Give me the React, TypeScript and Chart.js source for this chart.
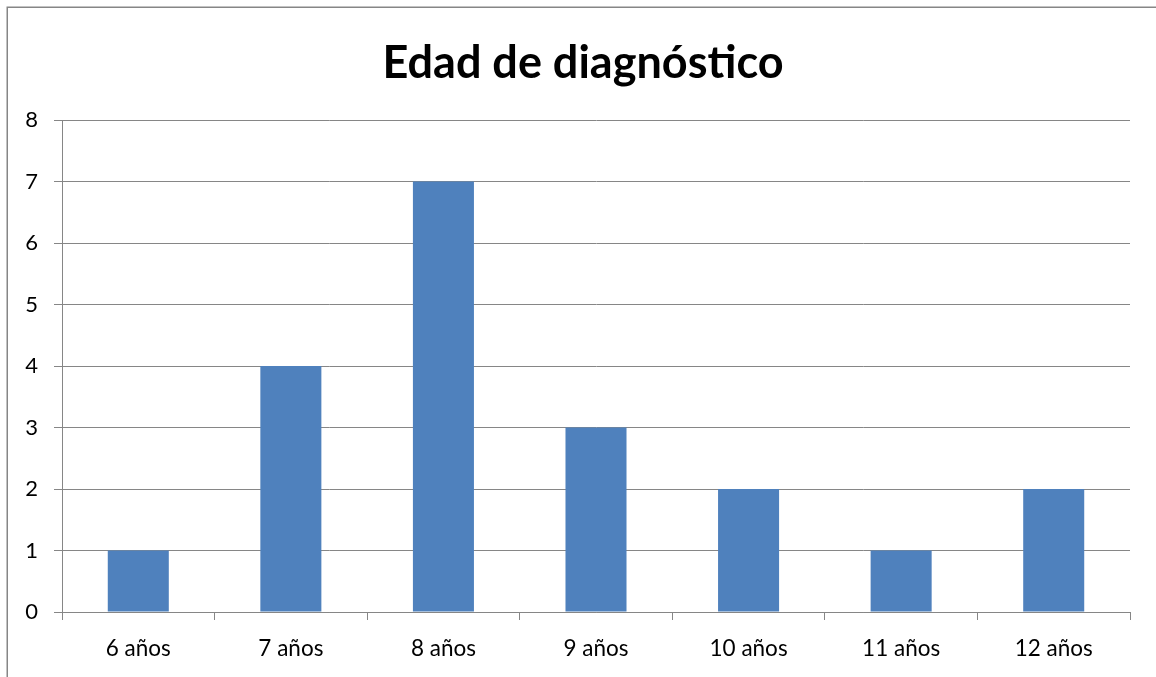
import React, { useEffect, useRef } from "react";
import { Chart, registerables } from "chart.js";

Chart.register(...registerables);

const categories = ["6 años", "7 años", "8 años", "9 años", "10 años", "11 años", "12 años"];
const values = [1, 4, 7, 3, 2, 1, 2];
const titleText = "Edad de diagnóstico";

const FONT = "Lato, 'Open Sans', sans-serif";
const GRID = "#868686";

const borderPlugin = {
  id: "outerBorder",
  afterDraw(chart: any) {
    const ctx = chart.ctx;
    ctx.save();
    ctx.strokeStyle = GRID;
    ctx.lineWidth = 1.5;
    ctx.strokeRect(7.25, 7.25, 2000, 2000);
    ctx.restore();
  },
};

export default function App() {
  const ref = useRef<HTMLCanvasElement | null>(null);
  useEffect(() => {
    if (!ref.current) return;
    const chart = new Chart(ref.current, {
      type: "bar",
      data: {
        labels: categories,
        datasets: [
          {
            data: values,
            backgroundColor: "#4F81BD",
            barPercentage: 0.4,
            categoryPercentage: 1,
          },
        ],
      },
      options: {
        animation: false,
        responsive: false,
        layout: { padding: { left: 10, right: 0, top: 0, bottom: 0 } },
        plugins: {
          legend: { display: false },
          tooltip: { enabled: false },
          title: {
            display: true,
            text: titleText,
            color: "#000",
            font: { family: FONT, size: 45, weight: "bold", lineHeight: 1.2 },
            padding: { top: 36, bottom: 30 },
          },
        },
        scales: {
          x: {
            grid: {
              display: true,
              drawOnChartArea: false,
              drawTicks: true,
              tickLength: 8,
              color: GRID,
              offset: true,
            },
            border: { display: true, color: GRID, width: 1 },
            ticks: {
              color: "#000",
              font: { family: FONT, size: 22.5 },
              padding: 15,
            },
          },
          y: {
            min: 0,
            max: 8,
            afterFit(scale: any) {
              scale.width = 52;
            },
            grid: { color: GRID, tickLength: 8, lineWidth: 1 },
            border: { display: true, color: GRID, width: 1 },
            ticks: {
              stepSize: 1,
              color: "#000",
              font: { family: FONT, size: 22 },
              padding: 16,
            },
          },
          yRight: {
            position: "right",
            display: true,
            min: 0,
            max: 8,
            afterFit(scale: any) {
              scale.width = 26;
            },
            grid: { display: false, drawTicks: false },
            border: { display: false },
            ticks: { display: false },
          },
        },
      },
      plugins: [borderPlugin],
    });
    return () => chart.destroy();
  }, []);
  return (
    <div style={{ position: "fixed", left: 0, top: 0, width: 1156, height: 677, background: "#fff" }}>
      <canvas ref={ref} width={1156} height={677} style={{ display: "block" }} />
    </div>
  );
}
